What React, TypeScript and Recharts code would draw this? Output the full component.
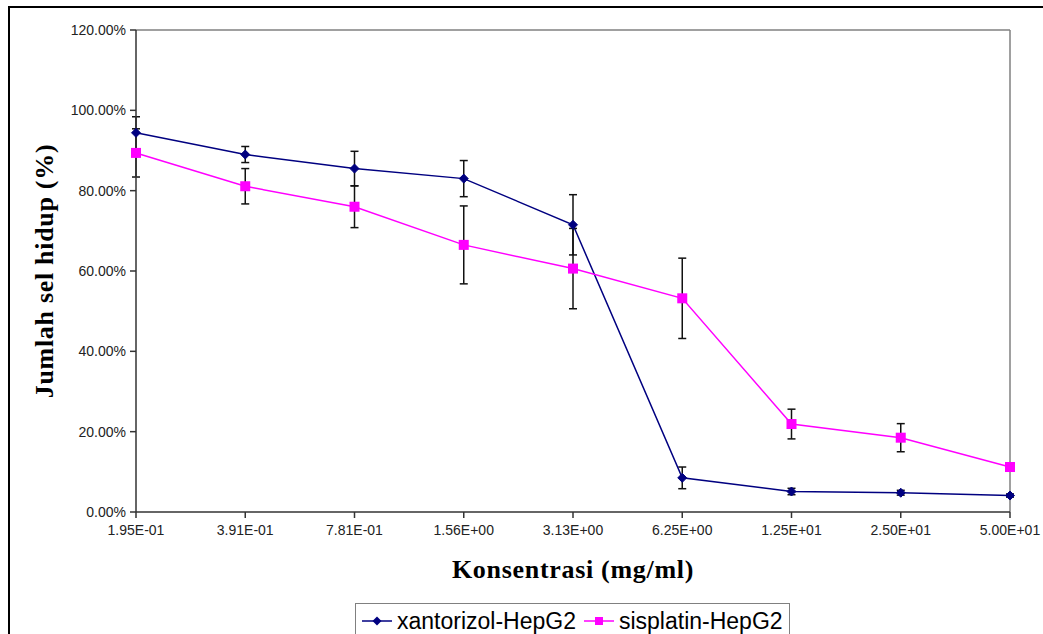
import {
  ErrorBar,
  Line,
  LineChart,
  ReferenceLine,
  XAxis,
  YAxis,
} from "recharts";

const concentrations = [
  "1.95E-01",
  "3.91E-01",
  "7.81E-01",
  "1.56E+00",
  "3.13E+00",
  "6.25E+00",
  "1.25E+01",
  "2.50E+01",
  "5.00E+01",
];

const xantorizol = [94.4, 89.0, 85.5, 83.0, 71.5, 8.5, 5.1, 4.8, 4.1];
const xantorizolErr = [4.0, 2.0, 4.3, 4.5, 7.5, 2.7, 0.8, 0.6, 0.4];
const sisplatin = [89.4, 81.1, 76.0, 66.5, 60.6, 53.2, 21.9, 18.5, 11.2];
const sisplatinErr = [6.0, 4.4, 5.2, 9.7, 10.0, 10.0, 3.7, 3.5, 0.4];

const yTicks = [0, 20, 40, 60, 80, 100, 120];

const BLUE = "#000080";
const PINK = "#FF00FF";

const data = concentrations.map((c, i) => ({
  conc: c,
  xantorizol: xantorizol[i],
  xantorizolErr: xantorizolErr[i],
  sisplatin: sisplatin[i],
  sisplatinErr: sisplatinErr[i],
}));

const Diamond = (props: any) => {
  const { cx, cy } = props;
  if (cx == null || cy == null) return null;
  const r = 4.5;
  return (
    <polygon
      key={`d-${props.index}`}
      points={`${cx},${cy - r} ${cx + r},${cy} ${cx},${cy + r} ${cx - r},${cy}`}
      fill={BLUE}
      stroke={BLUE}
    />
  );
};

const Square = (props: any) => {
  const { cx, cy } = props;
  if (cx == null || cy == null) return null;
  const s = 10;
  return (
    <rect key={`s-${props.index}`} x={cx - s / 2} y={cy - s / 2} width={s} height={s} fill={PINK} />
  );
};

const tickStyle = { fill: "#222", fontSize: 14, fontFamily: "'Liberation Sans', Arial, sans-serif" };
const titleFont = "'Liberation Serif', 'DejaVu Serif', serif";

// the picture is cut off at the right and bottom, so the frame only has top and left edges
export default function App() {
  return (
    <div
      style={{
        position: "fixed",
        left: 8,
        top: 6,
        width: 1035,
        height: 628,
        overflow: "hidden",
        background: "#fff",
      }}
    >
      <div style={{ position: "absolute", left: 0, top: 0, width: 1035, height: 2, background: "#000" }} />
      <div style={{ position: "absolute", left: 0, top: 0, width: 2, height: 628, background: "#000" }} />
      <div style={{ position: "absolute", left: 0, top: 0 }}>
        <LineChart
          width={1035}
          height={628}
          data={data}
          margin={{ top: 24, right: 33, left: 48, bottom: 82 }}
        >
          <ReferenceLine y={120} stroke="#808080" strokeWidth={1.5} />
          <ReferenceLine x="5.00E+01" stroke="#808080" strokeWidth={1.5} />
          <XAxis
            dataKey="conc"
            height={40}
            tick={tickStyle}
            tickSize={6}
            tickMargin={7}
            stroke="#333"
            strokeWidth={1.5}
            interval={0}
          />
          <YAxis
            width={80}
            domain={[0, 120]}
            ticks={yTicks}
            tickFormatter={(v: number) => `${v.toFixed(2)}%`}
            tick={tickStyle}
            tickSize={6}
            tickMargin={4}
            stroke="#333"
            strokeWidth={1.5}
            allowDataOverflow
          />
          <Line
            dataKey="xantorizol"
            stroke={BLUE}
            strokeWidth={1.5}
            dot={Diamond}
            activeDot={false}
            isAnimationActive={false}
          >
            <ErrorBar dataKey="xantorizolErr" direction="y" width={4} stroke="#111" strokeWidth={1.5} />
          </Line>
          <Line
            dataKey="sisplatin"
            stroke={PINK}
            strokeWidth={1.5}
            dot={Square}
            activeDot={false}
            isAnimationActive={false}
          >
            <ErrorBar dataKey="sisplatinErr" direction="y" width={4} stroke="#111" strokeWidth={1.5} />
          </Line>
        </LineChart>

        <div
          style={{
            position: "absolute",
            left: 37,
            top: 265,
            transform: "translate(-50%, -50%) rotate(-90deg)",
            whiteSpace: "nowrap",
            fontFamily: titleFont,
            fontWeight: "bold",
            fontSize: 26,
            letterSpacing: 0.7,
            color: "#000",
          }}
        >
          Jumlah sel hidup (%)
        </div>
        <div
          style={{
            position: "absolute",
            left: 565,
            top: 564,
            transform: "translate(-50%, -50%)",
            whiteSpace: "nowrap",
            fontFamily: titleFont,
            fontWeight: "bold",
            fontSize: 26,
            letterSpacing: 0.7,
            color: "#000",
          }}
        >
          Konsentrasi (mg/ml)
        </div>

        <div
          style={{
            position: "absolute",
            left: 347,
            top: 597,
            width: 435,
            height: 36,
            border: "1.5px solid #808080",
            boxSizing: "border-box",
            display: "flex",
            alignItems: "center",
            fontFamily: "'Liberation Sans', Arial, sans-serif",
            fontSize: 23,
            color: "#000",
            whiteSpace: "nowrap",
          }}
        >
          <svg width={30} height={12} style={{ marginLeft: 6, marginRight: 5 }}>
            <line x1={0} y1={6} x2={30} y2={6} stroke={BLUE} strokeWidth={1.5} />
            <polygon points="15,1.5 19.5,6 15,10.5 10.5,6" fill={BLUE} />
          </svg>
          <span>xantorizol-HepG2</span>
          <svg width={30} height={12} style={{ marginLeft: 8, marginRight: 5 }}>
            <line x1={0} y1={6} x2={30} y2={6} stroke={PINK} strokeWidth={1.5} />
            <rect x={11} y={2} width={8} height={8} fill={PINK} />
          </svg>
          <span>sisplatin-HepG2</span>
        </div>
      </div>
    </div>
  );
}
